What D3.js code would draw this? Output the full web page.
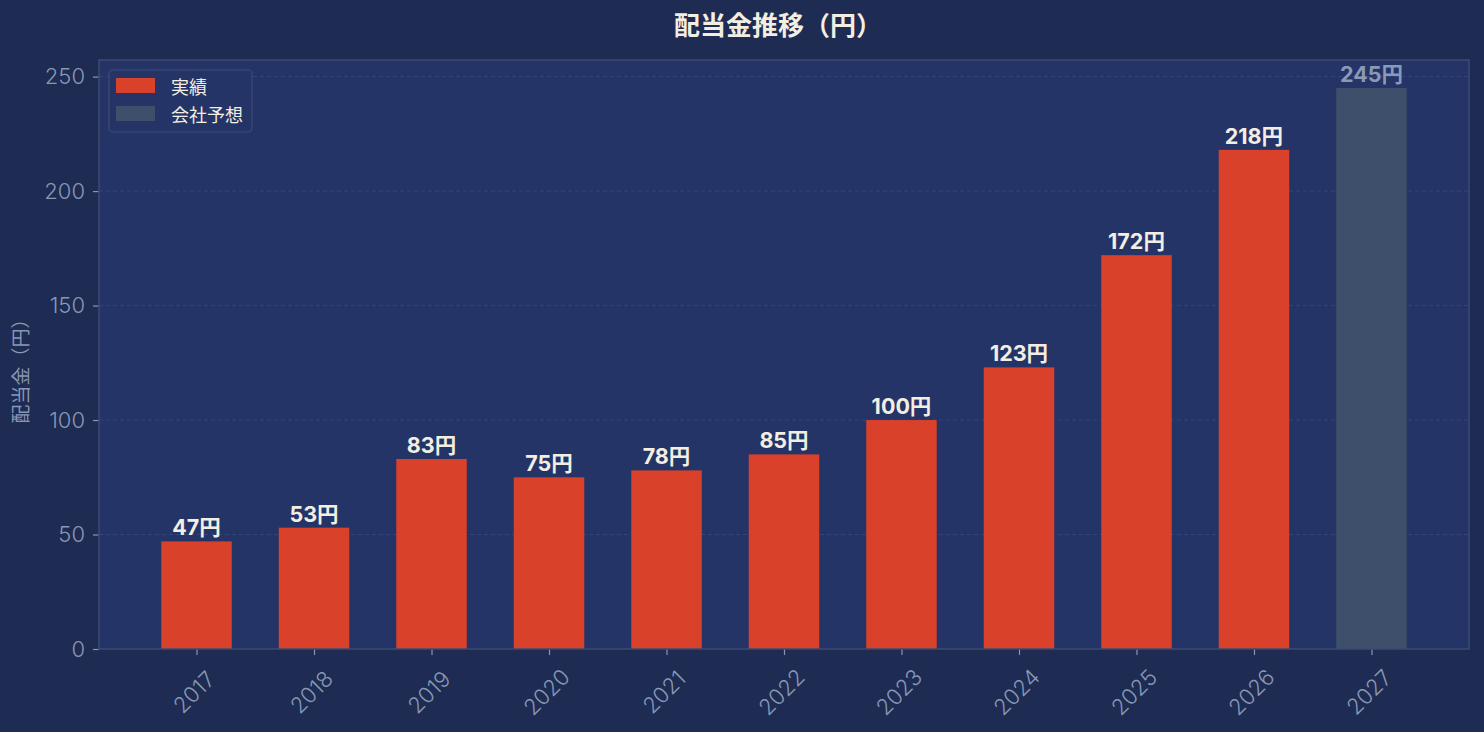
<!DOCTYPE html>
<html><head><meta charset="utf-8">
<script src="https://cdn.jsdelivr.net/npm/d3@7"></script>
<style>
html,body{margin:0;padding:0;background:#1e2b52}
svg{display:block}
</style></head>
<body><div id="chart"></div>
<script>
// dividend chart data
var years=['2017','2018','2019','2020','2021','2022','2023','2024','2025','2026','2027'];
var dividends=[47,53,83,75,78,85,100,123,172,218,245];
var kinds=['actual','actual','actual','actual','actual','actual','actual','actual','actual','actual','forecast'];
var yTicks=[0,50,100,150,200,250];
var legendItems=[{key:'actual',label:'実績'},{key:'forecast',label:'会社予想'}];

var W=1484,H=732;
var M={l:99,r:15,t:60,b:83};
var F='Inter,"Noto Sans CJK JP",sans-serif';
var FJ='"Noto Sans CJK JP","Noto Sans",sans-serif';
var C={bg:'#1e2b52',plot:'#243467',spine:'#3c4b72',tick:'#8797b5',grid:'#34457a',
  actual:'#d9412a',forecast:'#3e4f6b',label:'#f3eee2',flabel:'#8a9ab6'};

var svg=d3.select('#chart').append('svg').attr('width',W).attr('height',H);
svg.append('rect').attr('width',W).attr('height',H).attr('fill',C.bg);

// matplotlib-ish limits: bars width .6, 5% margin
var n=years.length;
var x=d3.scaleLinear().domain([-0.83,n-1+0.83]).range([M.l,W-M.r]);
var y=d3.scaleLinear().domain([0,257.25]).range([H-M.b,M.t]);
var bw=(x(0.6)-x(0));

svg.append('rect').attr('x',M.l).attr('y',M.t).attr('width',W-M.r-M.l).attr('height',H-M.b-M.t).attr('fill',C.plot);

// grid
svg.append('g').selectAll('line').data(yTicks.slice(1)).join('line')
  .attr('x1',M.l).attr('x2',W-M.r).attr('y1',function(d){return y(d)}).attr('y2',function(d){return y(d)})
  .attr('stroke',C.grid).attr('stroke-width',1).attr('stroke-dasharray','4 3');

// bars
svg.append('g').selectAll('rect').data(dividends).join('rect')
  .attr('x',function(d,i){return x(i)-bw/2}).attr('width',bw)
  .attr('y',function(d){return y(d)}).attr('height',function(d){return y(0)-y(d)})
  .attr('fill',function(d,i){return C[kinds[i]]});

// value labels
svg.append('g').selectAll('text').data(dividends).join('text')
  .attr('x',function(d,i){return x(i)}).attr('y',function(d){return y(d)-6})
  .attr('text-anchor','middle').attr('font-family',F).attr('font-size',21.5).attr('font-weight',700)
  .attr('fill',function(d,i){return kinds[i]==='forecast'?C.flabel:C.label})
  .text(function(d){return d+'円'});

// y axis
var ya=svg.append('g').attr('transform','translate('+M.l+',0)')
  .call(d3.axisLeft(y).tickValues(yTicks).tickSize(6).tickPadding(8));
ya.select('.domain').remove();
ya.selectAll('line').attr('stroke',C.tick).attr('stroke-width',1.2);
ya.selectAll('text').attr('fill',C.tick).attr('font-family',F).attr('font-size',22).attr('font-weight',300);

// x axis
var xa=svg.append('g').attr('transform','translate(0,'+(H-M.b)+')')
  .call(d3.axisBottom(x).tickValues(d3.range(n)).tickFormat(function(i){return years[i]}).tickSize(6));
xa.select('.domain').remove();
xa.selectAll('line').attr('stroke',C.tick).attr('stroke-width',1.2);
xa.selectAll('text').attr('fill',C.tick).attr('font-family',F).attr('font-size',22).attr('font-weight',300)
  .attr('text-anchor','middle').attr('dominant-baseline','central')
  .attr('y',0).attr('dy',null)
  .attr('transform','translate(-3,43) rotate(-45)');

// spines
svg.append('rect').attr('x',M.l).attr('y',M.t).attr('width',W-M.r-M.l).attr('height',H-M.b-M.t)
  .attr('fill','none').attr('stroke',C.spine).attr('stroke-width',1.5);

// y label
svg.append('text').attr('transform','translate(28,'+((M.t+H-M.b)/2+12)+') rotate(-90)')
  .attr('text-anchor','middle').attr('font-family',FJ).attr('font-size',19).attr('fill',C.tick)
  .text('配当金（円）');

// title
svg.append('text').attr('x',(M.l+W-M.r)/2-6).attr('y',35).attr('text-anchor','middle')
  .attr('font-family',FJ).attr('font-size',26).attr('font-weight',700).attr('fill',C.label)
  .text('配当金推移（円）');

// legend
var lg=svg.append('g').attr('transform','translate(109,70)');
lg.append('rect').attr('width',143).attr('height',62).attr('rx',4)
  .attr('fill',C.plot).attr('stroke',C.spine).attr('stroke-width',1.2);
legendItems.forEach(function(it,i){
  lg.append('rect').attr('x',7).attr('y',8+i*28).attr('width',39).attr('height',15).attr('fill',C[it.key]);
  lg.append('text').attr('x',62).attr('y',16+i*28).attr('dominant-baseline','central')
    .attr('font-family',FJ).attr('font-size',18).attr('fill',C.label).text(it.label);
});
</script></body></html>
